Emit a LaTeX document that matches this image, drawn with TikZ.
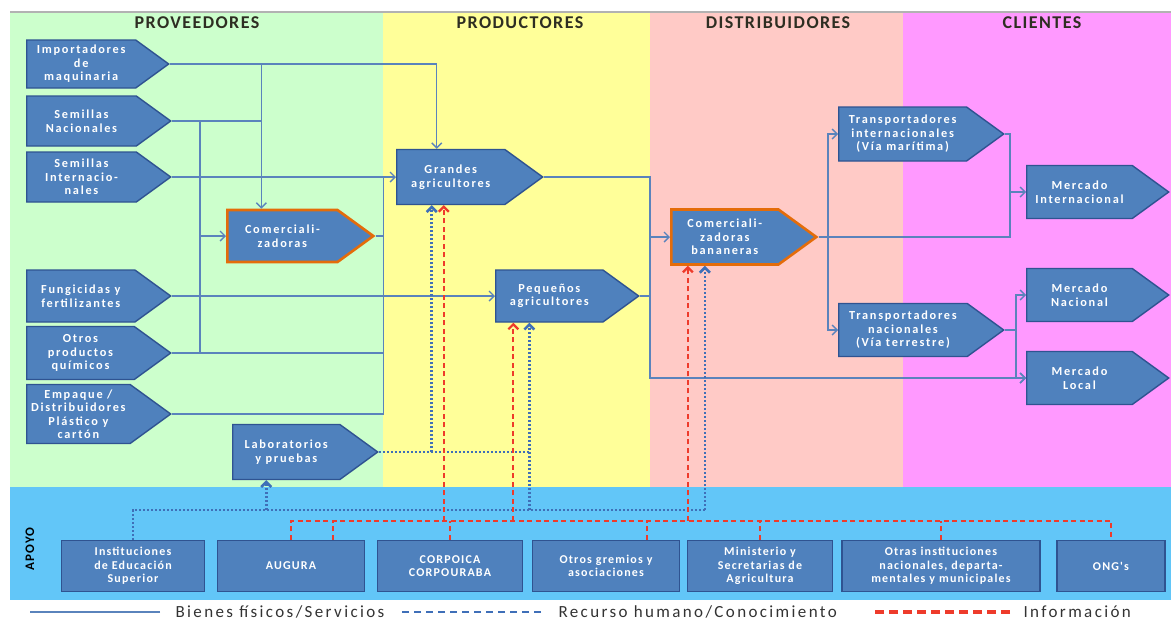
\documentclass[tikz,border=0pt]{standalone}
\usepackage{fontspec}
\setmainfont{Carlito}
\newfontfamily\boxfont[LetterSpace=14]{Carlito}
\newfontfamily\supportfont[LetterSpace=10]{Carlito}
\newfontfamily\headfont[LetterSpace=8]{Carlito}
\newfontfamily\legendfont[LetterSpace=14]{Carlito}
\usepackage{tikz}
\usetikzlibrary{arrows.meta,calc,positioning,shapes.symbols}
\definecolor{ink}{HTML}{2E2E22}
\definecolor{boxfill}{HTML}{4F81BD}
\definecolor{boxedge}{HTML}{2F5391}
\definecolor{hubedge}{HTML}{E46C0A}
\definecolor{goods}{HTML}{5A83BC}
\definecolor{knowblue}{HTML}{3F6FB8}
\definecolor{infored}{HTML}{EE3B2B}
\definecolor{provlite}{HTML}{CCFFCC}
\definecolor{prodlite}{HTML}{FFFF99}
\definecolor{distlite}{HTML}{FFCAC6}
\definecolor{clilite}{HTML}{FF99FF}
\definecolor{apoyo}{HTML}{62C6F8}
\tikzset{
  actor/.style={signal,signal to=east,signal pointer angle=72,fill=boxfill,draw=boxedge,line width=1.4pt,
    text=white,font=\boxfont\fontsize{12.3}{13.5}\selectfont\bfseries,align=center,inner sep=1pt,anchor=west},
  hub/.style={actor,draw=hubedge,line width=2.6pt},
  support/.style={rectangle,fill=boxfill,draw=boxedge,line width=1.4pt,text=white,
    font=\supportfont\fontsize{12}{13.5}\selectfont\bfseries,align=center,minimum height=51pt,inner sep=1pt},
  header/.style={font=\headfont\fontsize{18}{20}\selectfont\bfseries,text=ink},
  legendtext/.style={font=\legendfont\fontsize{17}{19}\selectfont,text=black!80,anchor=west},
  goodsline/.style={draw=goods,line width=1.4pt},
  knowline/.style={draw=knowblue,line width=2.6pt,dash pattern=on 2.2pt off 1.8pt},
  infoline/.style={draw=infored,line width=2.2pt,dash pattern=on 5pt off 3.5pt},
  pointed/.style={-{Straight Barb[length=5pt,width=10pt]}}
}
\begin{document}
\begin{tikzpicture}[x=1pt,y=-1pt]
        \useasboundingbox (0,0) rectangle (1171,622);
        \fill[provlite] (10,12) rectangle (383,487);
        \fill[prodlite] (383,12) rectangle (650,487);
        \fill[distlite] (650,12) rectangle (903,487);
        \fill[clilite] (903,12) rectangle (1171,487);
        \fill[apoyo] (10,487) rectangle (1171,600);
        \draw[gray!60,line width=1.5pt] (10,12) -- (1171,12);
        \node[header] (hprov) at (197,23) {PROVEEDORES};
        \node[header] (hprod) at (520,23) {PRODUCTORES};
        \node[header] (hdist) at (778,23) {DISTRIBUIDORES};
        \node[header] (hcli) at (1042,23) {CLIENTES};
        \node[font=\headfont\fontsize{13}{15}\selectfont\bfseries,rotate=90] (apoyolbl) at (30,549) {APOYO};
        % proveedores
        \node[actor,minimum width=142pt,minimum height=48pt] (imp) at (26,64) {Importadores\\de\\maquinaria};
        \node[actor,minimum width=144pt,minimum height=50pt] (semnac) at (26,121) {Semillas\\Nacionales};
        \node[actor,minimum width=144pt,minimum height=50pt] (semint) at (26,177) {Semillas\\Internacio-\\nales};
        \node[hub,minimum width=146pt,minimum height=52pt] (comer) at (226,236) {Comerciali-\\zadoras};
        \node[actor,minimum width=144pt,minimum height=52pt] (fung) at (26,296) {Fungicidas y\\fertilizantes};
        \node[actor,minimum width=144pt,minimum height=53pt] (otros) at (26,353) {Otros\\productos\\químicos};
        \node[actor,minimum width=144pt,minimum height=59pt] (empaque) at (26,414) {Empaque /\\Distribuidores\\Plástico y\\cartón};
        \node[actor,minimum width=145pt,minimum height=55pt] (lab) at (232,452) {Laboratorios\\y pruebas};
        % productores y distribuidores
        \node[actor,minimum width=146pt,minimum height=55pt] (grandes) at (396,177) {Grandes\\agricultores};
        \node[actor,minimum width=143pt,minimum height=52pt] (pequenos) at (495,296) {Pequeños\\agricultores};
        \node[hub,minimum width=145pt,minimum height=55pt] (banan) at (670,237) {Comerciali-\\zadoras\\bananeras};
        \node[actor,minimum width=165pt,minimum height=54pt] (trint) at (838,134) {Transportadores\\internacionales\\(Vía marítima)};
        \node[actor,minimum width=165pt,minimum height=53pt] (trnac) at (838,330) {Transportadores\\nacionales\\(Vía terrestre)};
        % clientes
        \node[actor,minimum width=142pt,minimum height=53pt] (mint) at (1026,192) {Mercado\\Internacional};
        \node[actor,minimum width=142pt,minimum height=53pt] (mnac) at (1026,295) {Mercado\\Nacional};
        \node[actor,minimum width=142pt,minimum height=53pt] (mloc) at (1026,378) {Mercado\\Local};
        % apoyo
        \node[support,minimum width=143pt] (edu) at (133,566) {Instituciones\\de Educación\\Superior};
        \node[support,minimum width=147pt] (augura) at (291,566) {AUGURA};
        \node[support,minimum width=145pt] (corpoica) at (450,566) {CORPOICA\\CORPOURABA};
        \node[support,minimum width=147pt] (gremios) at (606,566) {Otros gremios y\\asociaciones};
        \node[support,minimum width=145pt] (minis) at (760,566) {Ministerio y\\Secretarias de\\Agricultura};
        \node[support,minimum width=198pt] (otrasinst) at (941,566) {Otras instituciones\\nacionales, departa-\\mentales y municipales};
        \node[support,minimum width=108pt] (ong) at (1111,566) {ONG's};
        % bienes fisicos
        \coordinate (cj) at ([xshift=-21pt]comer.north);
        \coordinate (gj) at ([xshift=-14pt]grandes.north);
        \coordinate (busa) at ([xshift=-26pt]comer.west);
        \coordinate (busb) at ([xshift=8pt]comer.east);
        \coordinate (busc) at ([xshift=-20pt]banan.west);
        \coordinate (busd) at ([xshift=-10pt]trint.west);
        \coordinate (buse) at ([xshift=-16pt]mint.west);
        \coordinate (busf) at ([xshift=-10pt]mnac.west);
        \draw[goodsline,pointed] (imp.east) -| (gj);
        \draw[goodsline,pointed] (imp.east -| cj) -- (cj);
        \draw[goodsline] (semnac.east) -- (semnac.east -| cj);
        \draw[goodsline] (semnac.east -| busa) -- (otros.east -| busa);
        \draw[goodsline,pointed] (busa) -- (comer.west);
        \draw[goodsline,pointed] (semint.east) -- (grandes.west);
        \draw[goodsline,pointed] (fung.east) -- (pequenos.west);
        \draw[goodsline] (otros.east) -- (otros.east -| busb);
        \draw[goodsline] (empaque.east) -| (semint.east -| busb);
        \draw[goodsline] (comer.east) -- (busb);
        \draw[goodsline,pointed] (grandes.east) -| (busc |- mloc.west) -- (mloc.west);
        \draw[goodsline] (pequenos.east) -- (pequenos.east -| busc);
        \draw[goodsline,pointed] (busc) -- (banan.west);
        \draw[goodsline,pointed] (busd |- banan.east) |- (trint.west);
        \draw[goodsline,pointed] (busd |- banan.east) |- (trnac.west);
        \draw[goodsline] (banan.east) -| (buse |- trint.east) -- (trint.east);
        \draw[goodsline,pointed] (buse |- mint.west) -- (mint.west);
        \draw[goodsline] (trnac.east) -- (busf |- trnac.east);
        \draw[goodsline,pointed] (busf |- trnac.east) |- (mnac.west);
        \draw[goodsline,pointed] (busf |- trnac.east) |- (mloc.west);
        % recurso humano / conocimiento
        \coordinate (kl) at ([yshift=30pt]edu.north);
        \coordinate (klab) at ([xshift=-20pt]lab.south);
        \coordinate (kg) at ([xshift=-19pt]grandes.south);
        \coordinate (kp) at ([xshift=-20pt]pequenos.south);
        \coordinate (kb) at ([xshift=-20pt]banan.south);
        \draw[knowline] (edu.north) |- (kl -| kb);
        \draw[knowline,pointed] (kl -| klab) -- (klab);
        \draw[knowline,pointed] (kl -| kp) -- (kp);
        \draw[knowline,pointed] (kl -| kb) -- (kb);
        \draw[knowline] (lab.east) -- (lab.east -| kp);
        \draw[knowline,pointed] (lab.east -| kg) -- (kg);
        % informacion
        \coordinate (il) at ([yshift=19pt]augura.north);
        \coordinate (ia) at ([xshift=42pt]augura.north);
        \coordinate (io) at ([xshift=41pt]gremios.north);
        \coordinate (ig) at ([xshift=-7pt]grandes.south);
        \coordinate (ip) at ([xshift=-36pt]pequenos.south);
        \coordinate (ib) at ([xshift=-37pt]banan.south);
        \draw[infoline] (augura.north) -- (il) -- (il -| ong.north) -- (ong.north);
        \draw[infoline] (ia) -- (il -| ia);
        \draw[infoline] (corpoica.north) -- (il -| corpoica.north);
        \draw[infoline] (io) -- (il -| io);
        \draw[infoline] (minis.north) -- (il -| minis.north);
        \draw[infoline] (otrasinst.north) -- (il -| otrasinst.north);
        \draw[infoline,pointed] (il -| ig) -- (ig);
        \draw[infoline,pointed] (il -| ip) -- (ip);
        \draw[infoline,pointed] (il -| ib) -- (ib);
        % leyenda
        \node[legendtext] (lgoods) at (172,612) {Bienes físicos/Servicios};
        \node[legendtext] (lknow) at (555,612) {Recurso humano/Conocimiento};
        \node[legendtext] (linfo) at (1020,612) {Información};
        \draw[goods,line width=2.4pt] ([xshift=-12pt]lgoods.west) -- ++(-130,0);
        \draw[knowblue,line width=2.4pt,dash pattern=on 7pt off 5pt] ([xshift=-14pt]lknow.west) -- ++(-143,0);
        \draw[infored,line width=4.5pt,dash pattern=on 9pt off 5pt] ([xshift=-10pt]linfo.west) -- ++(-135,0);
      \end{tikzpicture}
\end{document}
